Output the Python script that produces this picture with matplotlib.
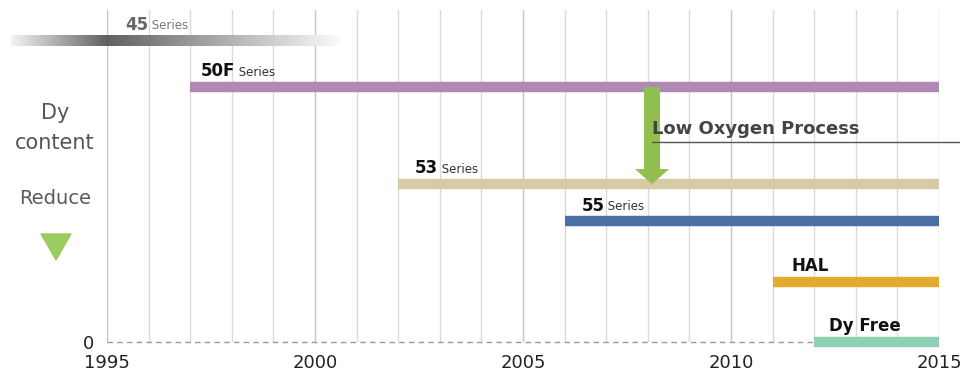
import numpy as np
import matplotlib.pyplot as plt
from matplotlib.patches import FancyArrow, Polygon

# product lines: name, start year, Dy level
names = ["50F", "53", "55", "HAL", "Dy Free"]
suffix = ["Series", "Series", "Series", "", ""]
starts = [1997, 2002, 2006, 2011, 2012]
levels = [7.68, 4.76, 3.64, 1.81, 0.0]
colors = ["#b088b4", "#d6cba6", "#4a6fa5", "#e3aa2b", "#8fd0b4"]
label_dx = [0.25, 0.4, 0.4, 0.45, 0.35]
end_year = 2015

# 45 series fades in and out around 1995
old_start, old_peak, old_end, old_level = 1992.7, 1995.0, 2000.6, 9.07

years = np.arange(1995, 2016)
year_ticks = [1995, 2000, 2005, 2010, 2015]

fig = plt.figure(figsize=(9.6, 3.75), dpi=100)
ax = fig.add_axes([0.1115, 0.088, 0.8667, 0.885])

# vertical year grid
for y in years:
    ax.axvline(y, color="#c4c4c4" if y % 5 == 0 else "#dadada", lw=1, zorder=0)

# gradient bar for the 45 series
xs = np.linspace(old_start, old_end, 300)
shade = np.where(xs < old_peak,
                 0.95 - 0.57 * (xs - old_start) / (old_peak - old_start),
                 0.38 + 0.60 * (xs - old_peak) / (old_end - old_peak))
ax.imshow(np.tile(shade, (2, 1)), cmap="gray", vmin=0, vmax=1, aspect="auto",
          extent=[old_start, old_end, old_level - 0.16, old_level + 0.16],
          clip_on=False, zorder=2, interpolation="bilinear")
t = ax.text(old_peak + 0.43, old_level + 0.22, "45", fontsize=12, fontweight="bold",
            color="#666666", va="bottom")
ax.annotate(" Series", xy=(1, 0.08), xycoords=t, fontsize=8.5, color="#777777", va="bottom")
ax.set_xlim(1995, 2015)
ax.set_ylim(0, 10)

# dashed baseline up to Dy Free
ax.plot([1995, starts[-1]], [0, 0], ls=(0, (4, 3)), color="#999999", lw=1, zorder=1, clip_on=False)

for name, suf, x0, lv, c, dx in zip(names, suffix, starts, levels, colors, label_dx):
    ax.hlines(lv, x0, end_year, color=c, lw=7.5, zorder=3, clip_on=False)
    t = ax.text(x0 + dx, lv + 0.2, name, fontsize=12, fontweight="bold",
                color="#111111", va="bottom")
    if suf:
        ax.annotate(" " + suf, xy=(1, 0.08), xycoords=t, fontsize=8.5,
                    color="#333333", va="bottom")

# low oxygen process arrow
ax_x = 2008.1
arr = FancyArrow(ax_x, levels[0], 0, -(levels[0] - levels[1]), width=0.385,
                 head_width=0.82, head_length=0.45, length_includes_head=True,
                 color="#92c050", zorder=4, lw=0)
ax.add_patch(arr)
ax.text(ax_x, 6.42, "Low Oxygen Process", fontsize=13, fontweight="bold",
        color="#444444", va="center", ha="left", zorder=5)
ax.plot([ax_x, 2015.6], [6.02, 6.02], color="#555555", lw=1, clip_on=False, zorder=5)

# axes styling
for s in ax.spines.values():
    s.set_visible(False)
ax.set_xticks(year_ticks)
ax.set_xticklabels([str(v) for v in year_ticks], fontsize=13, color="#222222")
ax.set_yticks([0])
ax.set_yticklabels(["0"], fontsize=13, color="#222222")
ax.tick_params(axis="x", length=0, pad=9)
ax.tick_params(axis="y", length=0, pad=9)

# left side legend
fig.text(55 / 960, 1 - 113 / 375, "Dy", fontsize=15, color="#555555", ha="center", va="center")
fig.text(55 / 960, 1 - 143 / 375, "content", fontsize=15, color="#555555", ha="center", va="center")
fig.text(55 / 960, 1 - 198 / 375, "Reduce", fontsize=14, color="#5a5a5a", ha="center", va="center")
tri = Polygon([[41 / 960, 1 - 234 / 375], [71 / 960, 1 - 234 / 375], [56 / 960, 1 - 260 / 375]],
              closed=True, color="#9ccc60", transform=fig.transFigure)
fig.patches.append(tri)

fig.savefig("out.png", dpi=100)
